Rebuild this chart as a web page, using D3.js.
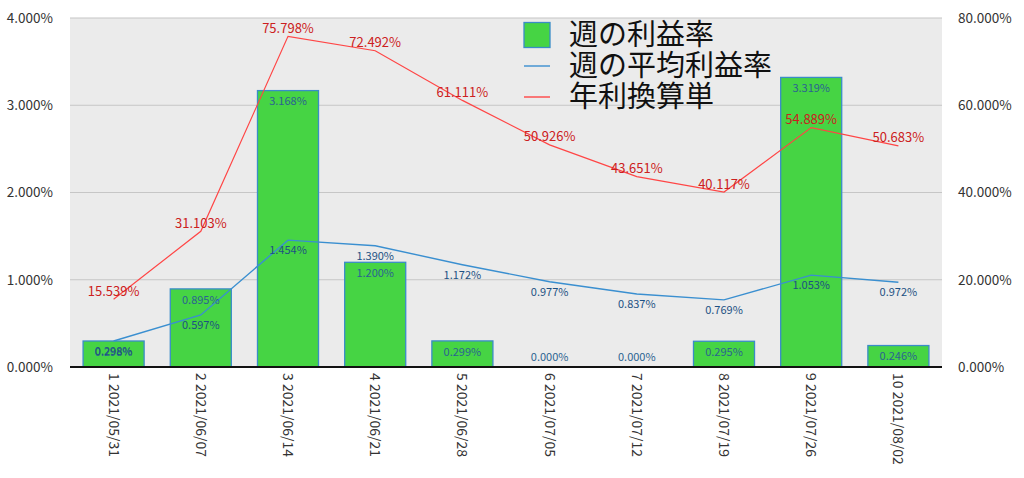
<!DOCTYPE html>
<html><head><meta charset="utf-8">
<script src="https://cdn.jsdelivr.net/npm/d3@7"></script>
<style>body{margin:0;background:#fff}svg{display:block}</style>
</head><body><svg id="c" width="1024" height="478"></svg>
<script>
const categories = ["1 2021/05/31","2 2021/06/07","3 2021/06/14","4 2021/06/21","5 2021/06/28","6 2021/07/05","7 2021/07/12","8 2021/07/19","9 2021/07/26","10 2021/08/02"];
const weeklyRate = [0.298,0.895,3.168,1.200,0.299,0.000,0.000,0.295,3.319,0.246];
const weeklyAvg = [0.298,0.597,1.454,1.390,1.172,0.977,0.837,0.769,1.053,0.972];
const annualized = [15.539,31.103,75.798,72.492,61.111,50.926,43.651,40.117,54.889,50.683];
const leftTicks = [0,1,2,3,4];
const rightTicks = [0,20,40,60,80];
const seriesNames = ["週の利益率","週の平均利益率","年利換算単"];

const svg = d3.select("#c");
const L=70,R=942,T=18,B=367;
const font = "'Noto Sans CJK JP','Noto Sans',sans-serif";
const x = d3.scaleBand().domain(categories).range([L,R]).paddingInner(0.3).paddingOuter(0.15);
const yL = d3.scaleLinear().domain([0,4]).range([B,T]);
const yR = d3.scaleLinear().domain([0,80]).range([B,T]);
const fmt = v => v.toFixed(3)+"%";

svg.append("rect").attr("x",L).attr("y",T).attr("width",R-L).attr("height",B-T).attr("fill","#ebebeb");
svg.append("g").selectAll("line").data(leftTicks.slice(1)).join("line")
  .attr("x1",L).attr("x2",R).attr("y1",d=>yL(d)).attr("y2",d=>yL(d))
  .attr("stroke","#c6c6c6").attr("stroke-width",1.2);

const gl = svg.append("g").attr("transform",`translate(${L-17},0)`)
  .call(d3.axisLeft(yL).tickValues(leftTicks).tickFormat(d=>d.toFixed(3)+"%").tickSize(0).tickPadding(0));
gl.select(".domain").remove();
gl.selectAll("text").attr("font-family",font).attr("font-size",13.5).attr("fill","#333");

const gr = svg.append("g").attr("transform",`translate(${R+16},0)`)
  .call(d3.axisRight(yR).tickValues(rightTicks).tickFormat(d=>d.toFixed(3)+"%").tickSize(0).tickPadding(0));
gr.select(".domain").remove();
gr.selectAll("text").attr("font-family",font).attr("font-size",13.5).attr("fill","#333");

// bars
svg.append("g").selectAll("rect").data(weeklyRate).join("rect")
  .attr("x",(d,i)=>x(categories[i])).attr("width",x.bandwidth())
  .attr("y",d=>yL(d)).attr("height",d=>B-yL(d))
  .attr("fill","#46d444").attr("stroke","#3a8cc8").attr("stroke-width",1.3);

// baseline
svg.append("line").attr("x1",L).attr("x2",R).attr("y1",B).attr("y2",B).attr("stroke","#111").attr("stroke-width",2);

// x axis labels
const gx = svg.append("g").attr("transform",`translate(0,${B})`)
  .call(d3.axisBottom(x).tickSize(0).tickPadding(0));
gx.select(".domain").remove();
gx.selectAll("text").attr("font-family",font).attr("font-size",14).attr("fill","#333")
  .attr("transform","translate(0,6) rotate(90)").attr("text-anchor","start").attr("dy","0.35em").attr("y",0).attr("x",0);

const cx = i => x(categories[i])+x.bandwidth()/2;
// lines
svg.append("path").datum(weeklyAvg).attr("fill","none").attr("stroke","#3a8fd0").attr("stroke-width",1.4)
  .attr("d",d3.line().x((d,i)=>cx(i)).y(d=>yL(d)));
svg.append("path").datum(annualized).attr("fill","none").attr("stroke","#ff4545").attr("stroke-width",1.2)
  .attr("d",d3.line().x((d,i)=>cx(i)).y(d=>yR(d)));

// labels
svg.append("g").selectAll("text").data(weeklyRate).join("text")
  .attr("x",(d,i)=>cx(i)).attr("y",d=>Math.min(yL(d)+11,357)).attr("dy","0.35em")
  .attr("text-anchor","middle").attr("font-family",font).attr("font-size",11).attr("fill","#2b6391").text(fmt);
svg.append("g").selectAll("text").data(weeklyAvg).join("text")
  .attr("x",(d,i)=>cx(i)).attr("y",d=>yL(d)+10).attr("dy","0.35em")
  .attr("text-anchor","middle").attr("font-family",font).attr("font-size",11).attr("fill","#1d5183").text(fmt);
svg.append("g").selectAll("text").data(annualized).join("text")
  .attr("x",(d,i)=>cx(i)).attr("y",d=>yR(d)-8).attr("dy","0.35em")
  .attr("text-anchor","middle").attr("font-family",font).attr("font-size",13).attr("fill","#cc2020").text(fmt);

// legend
const lg = svg.append("g");
const rowY = [35,66,97];
lg.append("rect").attr("x",524).attr("y",rowY[0]-12.5).attr("width",26).attr("height",25)
  .attr("fill","#46d444").attr("stroke","#3a8cc8").attr("stroke-width",1.3);
lg.append("line").attr("x1",524).attr("x2",550).attr("y1",rowY[1]).attr("y2",rowY[1]).attr("stroke","#3a8fd0").attr("stroke-width",1.4);
lg.append("line").attr("x1",524).attr("x2",550).attr("y1",rowY[2]).attr("y2",rowY[2]).attr("stroke","#ff4545").attr("stroke-width",1.4);
lg.selectAll("text").data(seriesNames).join("text")
  .attr("x",569).attr("y",(d,i)=>rowY[i]).attr("dy","0.36em")
  .attr("font-family",font).attr("font-size",29).attr("fill","#111").text(d=>d);
</script></body></html>
